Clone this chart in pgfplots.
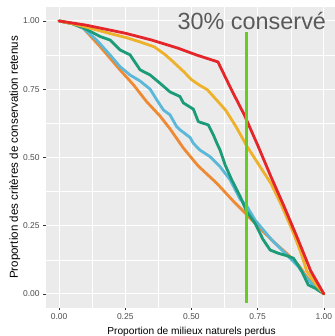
\documentclass[border=0pt]{standalone}
\usepackage{pgfplots}
\pgfplotsset{compat=1.18}
\usepackage{pgfplotstable}
\usepackage{fontspec}
\setmainfont{Liberation Sans}
\definecolor{panel}{HTML}{EBEBEB}
\definecolor{tickgray}{HTML}{4D4D4D}
\definecolor{tickmark}{HTML}{333333}
\definecolor{cred}{HTML}{E4262B}
\definecolor{cgold}{HTML}{EEB12A}
\definecolor{cgreen}{HTML}{1B9B78}
\definecolor{cblue}{HTML}{5BB8D8}
\definecolor{corange}{HTML}{EE8A33}
\definecolor{cline}{HTML}{66CC22}
\definecolor{annot}{HTML}{5A5A5A}

\pgfplotstableread{
x y
0 1
0.1 0.985
0.2 0.965
0.25 0.955
0.35 0.93
0.45 0.9
0.52 0.875
0.6 0.85
0.65 0.75
0.7 0.655
0.75 0.545
0.8 0.43
0.85 0.32
0.9 0.205
0.95 0.085
1.0 0.0
}\redtab

\pgfplotstableread{
x y
0 1
0.05 0.99
0.1 0.978
0.15 0.965
0.2 0.952
0.25 0.94
0.3 0.925
0.36 0.905
0.4 0.877
0.42 0.86
0.47 0.815
0.5 0.785
0.53 0.765
0.56 0.748
0.6 0.705
0.63 0.672
0.67 0.61
0.71 0.54
0.77 0.45
0.8 0.405
0.84 0.325
0.88 0.235
0.91 0.16
0.935 0.085
0.97 0.035
1.0 0.0
}\goldtab

\pgfplotstableread{
x y
0 1
0.05 0.99
0.092 0.975
0.155 0.943
0.193 0.93
0.23 0.894
0.268 0.876
0.306 0.821
0.344 0.802
0.381 0.772
0.419 0.74
0.457 0.723
0.469 0.70
0.507 0.677
0.526 0.631
0.564 0.619
0.583 0.582
0.596 0.552
0.608 0.527
0.627 0.473
0.652 0.418
0.684 0.357
0.707 0.305
0.74 0.259
0.77 0.2
0.797 0.161
0.828 0.149
0.86 0.14
0.885 0.131
0.898 0.112
0.917 0.082
0.941 0.033
0.967 0.021
1.0 0.0
}\greentab

\pgfplotstableread{
x y
0 1
0.05 0.99
0.092 0.973
0.142 0.930
0.193 0.875
0.23 0.833
0.268 0.802
0.306 0.78
0.344 0.75
0.369 0.711
0.394 0.674
0.419 0.656
0.444 0.613
0.457 0.601
0.495 0.573
0.507 0.552
0.532 0.527
0.570 0.503
0.608 0.466
0.646 0.418
0.684 0.347
0.707 0.325
0.74 0.271
0.803 0.198
0.866 0.137
0.904 0.1
0.935 0.057
0.967 0.027
1.0 0.0
}\bluetab

\pgfplotstableread{
x y
0 1
0.05 0.99
0.092 0.973
0.155 0.906
0.193 0.863
0.23 0.821
0.281 0.766
0.331 0.704
0.381 0.652
0.419 0.605
0.469 0.535
0.52 0.475
0.532 0.463
0.596 0.405
0.658 0.34
0.707 0.292
0.765 0.234
0.816 0.186
0.866 0.143
0.904 0.106
0.935 0.063
0.967 0.027
1.0 0.0
}\orangetab

\pgfplotstableread{
x y
0.707 -0.033
0.707 0.96
}\vlinetab

\begin{document}
\begin{tikzpicture}
\begin{axis}[
  anchor=south west, at={(0,0)},
  scale only axis, width=289.2bp, height=300.3bp,
  xmin=-0.05, xmax=1.042, ymin=-0.05, ymax=1.05,
  axis background/.style={fill=panel},
  axis line style={draw=none},
  xtick={0,0.25,0.5,0.75,1}, ytick={0,0.25,0.5,0.75,1},
  xticklabels={0.00,0.25,0.50,0.75,1.00},
  yticklabels={0.00,0.25,0.50,0.75,1.00},
  minor xtick={0.125,0.375,0.625,0.875},
  minor ytick={0.125,0.375,0.625,0.875},
  grid=both,
  major grid style={white, line width=1.07bp},
  minor grid style={white, line width=0.53bp},
  tick align=outside, major tick length=2.75bp, minor tick length=0pt,
  major tick style={color=tickmark, line width=0.5bp},
  xtick pos=bottom, ytick pos=left,
  tick label style={font=\fontsize{8.5}{10}\selectfont, color=tickgray},
  xlabel={Proportion de milieux naturels perdus},
  ylabel={Proportion des critères de conservation retenus},
  xlabel style={font=\fontsize{10.2}{12}\selectfont, at={(ticklabel cs:0.504)}, anchor=near ticklabel},
  ylabel style={font=\fontsize{11.6}{12}\selectfont},
  ylabel shift=-4bp,
  every axis plot/.append style={line width=2.8bp, line join=round, line cap=round},
]
\addplot[corange, no marks] table[x=x,y=y] {\orangetab};
\addplot[cblue, no marks] table[x=x,y=y] {\bluetab};
\addplot[cgreen, no marks] table[x=x,y=y] {\greentab};
\addplot[cgold, no marks] table[x=x,y=y] {\goldtab};
\addplot[cred, no marks] table[x=x,y=y] {\redtab};
\addplot[cline, no marks, line width=2.7bp, line cap=butt] table[x=x,y=y] {\vlinetab};
\node[anchor=base, color=annot, font=\fontsize{23.5}{26}\selectfont, inner sep=0pt] at (axis cs:0.728,0.97) {30\% conservé};
\end{axis}
\pgfresetboundingbox
\path[use as bounding box] (-45.8bp,-28.4bp) rectangle (289.2bp,307.6bp);
\end{tikzpicture}
\end{document}
